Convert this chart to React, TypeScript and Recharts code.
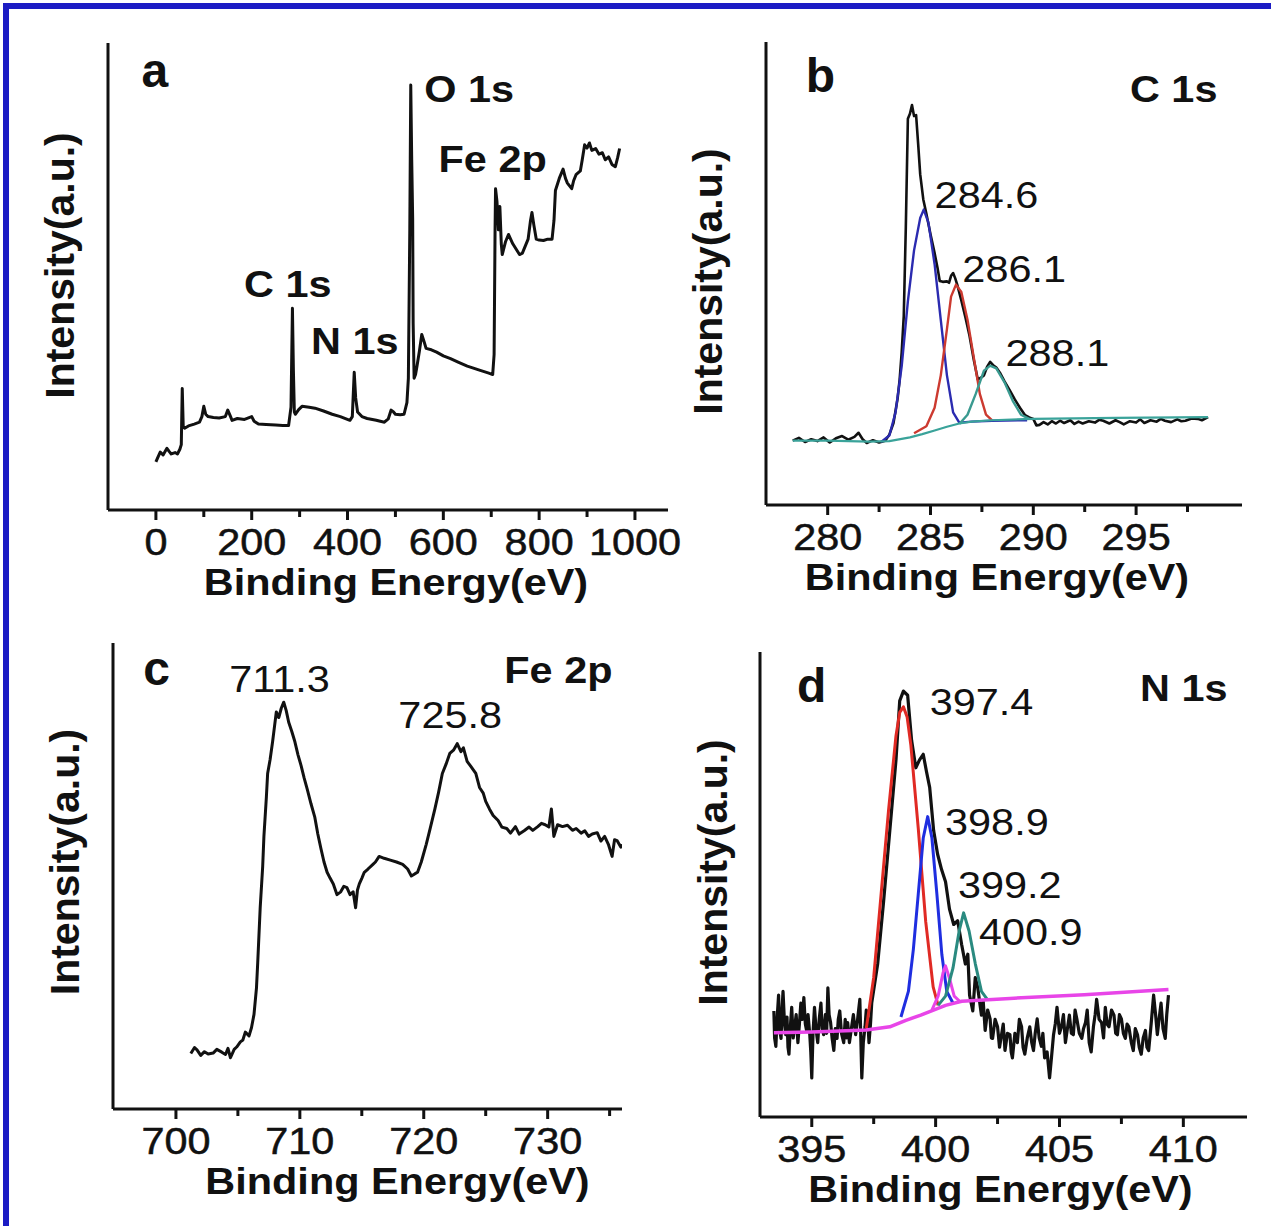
import React from "react";
import { LineChart, Line, XAxis, YAxis, ReferenceDot } from "recharts";

type Pt = [number, number];

// ---------- panel a : survey ----------
const surveyA: Pt[] = [
  [0, 10.3], [5, 11.5], [9, 12.4], [15, 11.8], [23, 13.2], [28, 12.5], [32, 12], [40, 12.3], [45, 12], [50, 13],
  [53, 14], [55, 26], [57, 18], [60, 17.5], [68, 18], [80, 18.4], [91, 18.8], [96, 20], [100, 22.2], [104, 20.5],
  [109, 20], [120, 19.8], [132, 19.7], [145, 20], [150, 21.4], [155, 20.2], [159, 19.2], [170, 19.6], [185, 19.4],
  [200, 20], [205, 19], [214, 18.4], [230, 18.3], [250, 18.2], [265, 18.1], [277, 18.1], [282, 22], [285, 43.2],
  [287, 30], [289, 21], [291, 20.5], [298, 21.5], [305, 22.2], [320, 22], [332, 21.8], [350, 21.2], [368, 20.5],
  [385, 20], [405, 19.2], [410, 20], [414, 29.5], [417, 24], [421, 21], [430, 20], [441, 19.6], [460, 19.2],
  [477, 18.8], [485, 19.5], [491, 21.4], [496, 21], [500, 20.5], [510, 20.4], [518, 20.5], [524, 23], [527, 28.2],
  [530, 60], [532, 91], [534, 75], [536, 62.4], [537, 40], [539, 28.2], [542, 29], [545, 30.8], [550, 34],
  [555, 37.6], [560, 36], [564, 34.6], [575, 34.3], [586, 33.8], [600, 33], [615, 32.4], [632, 31.6], [650, 30.8],
  [677, 29.9], [695, 29.3], [703, 29], [706, 33.3], [708, 60], [709, 68.8], [712, 66], [715, 60], [718, 65],
  [721, 57], [723, 54.7], [730, 57.5], [736, 59], [745, 57], [759, 54.7], [765, 55], [777, 58], [782, 62],
  [785, 63.7], [789, 61], [794, 58], [800, 57.8], [809, 57.7], [818, 58], [827, 58], [831, 62], [834, 68.4],
  [842, 71], [850, 73], [855, 71], [859, 70], [868, 68.8], [872, 70.5], [877, 71.8], [886, 72.6], [890, 75],
  [895, 78.2], [900, 77.5], [905, 78.6], [910, 77], [918, 77.4], [925, 76.2], [932, 76.5], [938, 75], [945, 75.6],
  [952, 74], [959, 73.5], [964, 75.5], [968, 77.4],
];

// ---------- panel b : C 1s ----------
const c1sData: Pt[] = [
  [278.3, 13.9], [278.6, 14.5], [278.9, 13.6], [279.2, 14.2], [279.5, 13.8], [279.8, 14.6], [280.1, 13.5],
  [280.4, 14.4], [280.7, 14.9], [281.0, 14.1], [281.3, 14.7], [281.5, 15.6], [281.7, 14.2], [281.9, 13.4],
  [282.2, 14.0], [282.5, 13.5], [282.8, 13.9], [283.0, 15.2], [283.2, 17.7], [283.4, 23], [283.5, 27.1],
  [283.6, 33], [283.7, 40.8], [283.8, 60], [283.9, 83.4], [284.0, 84.5], [284.1, 86.4], [284.2, 84],
  [284.3, 84.2], [284.4, 78], [284.5, 71.4], [284.65, 66], [284.8, 62.9], [285.0, 58.5], [285.2, 54.4],
  [285.35, 51], [285.45, 48.4], [285.6, 48.2], [285.8, 48.3], [285.9, 48], [286.0, 49.5], [286.1, 50.1],
  [286.2, 49], [286.3, 47.6], [286.5, 44.2], [286.7, 40.5], [286.9, 36.5], [287.1, 31.5], [287.3, 27.1],
  [287.45, 27.5], [287.6, 28], [287.75, 29.8], [287.9, 30.9], [288.05, 30.2], [288.2, 29.7], [288.4, 28.4],
  [288.6, 26.7], [288.85, 24.8], [289.1, 22.8], [289.35, 21], [289.6, 19.4], [289.8, 18.9], [290.0, 18.6],
  [290.15, 17.2], [290.3, 17.3], [290.5, 17.9], [290.7, 17.4], [290.9, 18.1], [291.1, 17.6], [291.3, 18.2],
  [291.5, 17.7], [291.8, 18.3], [292.0, 17.5], [292.2, 18.0], [292.4, 17.6], [292.7, 18.1], [293.0, 17.8],
  [293.2, 18.4], [293.4, 18.2], [293.7, 17.6], [294.0, 18.3], [294.2, 17.9], [294.4, 17.4], [294.7, 18.1],
  [295.0, 17.8], [295.2, 18.5], [295.4, 17.7], [295.7, 18.3], [296.0, 18.0], [296.2, 18.6], [296.4, 18.2],
  [296.7, 17.9], [297.0, 18.5], [297.2, 18.1], [297.4, 18.2], [297.7, 18.7], [298.0, 18.6], [298.2, 18.3],
  [298.5, 19.0],
];
const c1sPeak1: Pt[] = [
  [282.6, 13.6], [283.0, 15], [283.3, 20], [283.6, 30], [283.9, 44], [284.2, 55], [284.5, 62], [284.67, 63.8],
  [284.9, 61], [285.2, 52], [285.5, 40], [285.8, 28], [286.1, 20], [286.4, 17.8], [287.0, 18], [288.0, 18.2],
  [289.7, 18.3],
];
const c1sPeak2: Pt[] = [
  [284.2, 15.5], [284.8, 17], [285.2, 21], [285.5, 28], [285.8, 38], [286.0, 45], [286.24, 47.6], [286.5, 46],
  [286.8, 40], [287.1, 32], [287.4, 24], [287.7, 19.5], [288.0, 18.3],
];
const c1sPeak3: Pt[] = [
  [286.4, 17.5], [286.8, 19.5], [287.2, 24], [287.6, 29], [287.9, 30.1], [288.2, 29.5], [288.6, 26.5],
  [289.0, 22.5], [289.4, 19.5], [289.8, 18.6],
];
const c1sBase: Pt[] = [
  [278.3, 13.9], [280, 13.9], [282, 13.7], [283, 13.8], [284, 14.6], [284.6, 15.3], [285.2, 16.1], [285.8, 16.9],
  [286.4, 17.6], [287, 18], [288, 18.3], [290, 18.6], [294, 18.8], [298.5, 19.0],
];

// ---------- panel c : Fe 2p ----------
const fe2pData: Pt[] = [
  [701.2, 11.9], [701.5, 13.2], [701.7, 12.7], [702.0, 11.5], [702.3, 12.3], [702.6, 11.8], [703.0, 12.0],
  [703.3, 12.8], [703.7, 12.2], [704.0, 11.7], [704.2, 13], [704.4, 11.0], [704.7, 12.8], [704.9, 13.3],
  [705.2, 14.4], [705.4, 14.8], [705.6, 16.5], [705.9, 15.7], [706.1, 17.5], [706.3, 20.3], [706.5, 26],
  [706.6, 31.4], [706.8, 43.2], [707.0, 52], [707.1, 58.5], [707.3, 67], [707.4, 72], [707.6, 75], [707.8, 78.8],
  [707.95, 82], [708.1, 85.2], [708.3, 84], [708.5, 86], [708.7, 87.3], [708.9, 85.5], [709.1, 83], [709.35, 81],
  [709.6, 78.8], [709.85, 76], [710.1, 73.7], [710.35, 71], [710.6, 68.6], [710.9, 65.5], [711.2, 62.7],
  [711.45, 59], [711.7, 55.9], [711.95, 53], [712.2, 50.8], [712.45, 49.5], [712.7, 48.3], [713.0, 46],
  [713.3, 46.6], [713.55, 47.8], [713.8, 47.5], [714.05, 46], [714.3, 46.6], [714.5, 43.2], [714.65, 47],
  [714.8, 48.3], [715.0, 49.5], [715.2, 50.8], [715.5, 51.5], [715.9, 52.5], [716.1, 53], [716.4, 54.2],
  [716.8, 53.8], [717.3, 53.4], [717.8, 53], [718.3, 52.5], [718.7, 51.5], [719.0, 50], [719.3, 50.5],
  [719.5, 50.8], [719.8, 53], [720.2, 56.8], [720.5, 60], [720.9, 64.4], [721.2, 68], [721.5, 72], [721.8, 74],
  [722.1, 76.3], [722.4, 77], [722.7, 78.4], [723.0, 76.7], [723.2, 77.5], [723.5, 74.6], [723.8, 73.5],
  [724.2, 72], [724.5, 69], [724.8, 67.8], [725.0, 66], [725.3, 64.4], [725.6, 63], [726.0, 61.9], [726.3, 60.5],
  [726.7, 60.2], [727.0, 59.2], [727.4, 60.6], [727.7, 59], [728.1, 59.7], [728.5, 60.5], [728.8, 59.8],
  [729.2, 60.6], [729.5, 61.3], [729.8, 61], [730.1, 60.5], [730.3, 64.4], [730.5, 58.5], [730.8, 61],
  [731.2, 60.6], [731.6, 60.9], [732.0, 59.8], [732.3, 60.2], [732.7, 59.2], [733.0, 59.7], [733.3, 58.5],
  [733.6, 59], [734.0, 59.3], [734.3, 57.5], [734.6, 58.5], [734.9, 56.8], [735.2, 54.2], [735.4, 57.8],
  [735.6, 57.6], [735.9, 56.2], [736.0, 56.8],
];

// ---------- panel d : N 1s ----------
const n1sData: Pt[] = [
  [393.47, 22.8], [393.5, 17], [393.55, 15.2], [393.6, 21], [393.66, 26.2], [393.7, 19], [393.76, 16.9],
  [393.8, 23], [393.84, 27.0], [393.9, 20], [393.95, 17.7], [394.0, 21.5], [394.04, 15], [394.08, 13.5],
  [394.13, 19], [394.19, 23.6], [394.25, 17], [394.31, 19.4], [394.37, 22], [394.44, 16.0], [394.5, 20],
  [394.56, 24.5], [394.62, 21], [394.68, 25.7], [394.74, 20], [394.79, 18.6], [394.85, 22], [394.92, 17.7],
  [394.96, 14], [395.0, 8.4], [395.05, 18], [395.11, 23.6], [395.17, 19], [395.24, 16.0], [395.3, 21],
  [395.37, 24.5], [395.42, 19], [395.48, 17.7], [395.55, 22], [395.6, 18], [395.65, 27.8], [395.7, 22],
  [395.76, 20.3], [395.82, 17], [395.89, 14.3], [395.95, 19], [396.02, 16.9], [396.07, 21], [396.13, 22.8],
  [396.2, 18], [396.29, 16.0], [396.35, 21], [396.4, 17], [396.45, 20.3], [396.52, 16], [396.61, 19.4],
  [396.68, 22], [396.77, 17.7], [396.85, 21], [396.94, 25.3], [396.98, 17], [397.02, 8.4], [397.08, 16],
  [397.15, 19.4], [397.2, 23], [397.26, 21.1], [397.31, 16.0], [397.37, 20], [397.42, 24.5], [397.66, 32.9],
  [397.9, 46.4], [398.15, 61.6], [398.4, 76.8], [398.55, 89.5], [398.7, 91.6], [398.87, 90.7], [399.03, 81],
  [399.2, 75.1], [399.35, 76.8], [399.5, 78], [399.63, 74.3], [399.76, 70.9], [399.92, 61.6], [400.08, 56.5],
  [400.24, 53.2], [400.4, 50.6], [400.56, 44.7], [400.73, 41.4], [400.89, 42.2], [401.05, 37.1], [401.2, 32.9],
  [401.3, 35], [401.37, 26.2], [401.5, 22.8], [401.6, 30], [401.7, 27.8], [401.85, 21.9], [401.92, 25],
  [402.0, 18.6], [402.1, 23], [402.2, 21.1], [402.25, 17], [402.3, 16.9], [402.4, 21], [402.5, 19.4],
  [402.58, 15], [402.66, 17.7], [402.73, 20], [402.8, 14.3], [402.9, 18], [403.0, 17.7], [403.05, 14],
  [403.1, 12.7], [403.2, 18], [403.3, 16.0], [403.38, 21], [403.47, 19.4], [403.53, 15], [403.6, 13.5],
  [403.7, 17], [403.8, 19.4], [403.88, 16], [403.95, 14.3], [404.02, 18], [404.1, 21.1], [404.18, 17],
  [404.27, 15.2], [404.33, 18], [404.4, 12.7], [404.5, 14], [404.6, 8.4], [404.68, 13], [404.76, 17.7],
  [404.83, 20], [404.9, 23.6], [405.0, 18], [405.08, 19.4], [405.16, 22], [405.24, 16.0], [405.32, 19],
  [405.4, 21.9], [405.48, 18], [405.56, 17.7], [405.63, 23], [405.7, 21.1], [405.8, 18], [405.9, 16.9],
  [405.97, 19], [406.05, 20.3], [406.12, 23], [406.2, 16.0], [406.28, 14], [406.37, 19.4], [406.44, 22],
  [406.5, 25.3], [406.6, 21], [406.7, 20.3], [406.78, 17], [406.85, 23.6], [406.92, 20], [407.0, 19.4],
  [407.1, 23], [407.2, 21.9], [407.27, 18], [407.34, 17.7], [407.42, 22], [407.5, 21.1], [407.58, 18],
  [407.66, 16.9], [407.73, 20], [407.8, 19.4], [407.9, 16], [407.98, 14.3], [408.06, 19], [408.15, 17.7],
  [408.22, 15], [408.3, 13.5], [408.38, 17], [408.47, 18.6], [408.53, 15], [408.6, 14.3], [408.7, 20],
  [408.8, 26.2], [408.88, 22], [408.95, 17.7], [409.02, 21], [409.1, 24.5], [409.18, 19], [409.27, 16.9],
  [409.33, 22], [409.4, 26.2],
];
const n1sPeak1: Pt[] = [
  [397.2, 19], [397.5, 30], [397.8, 48], [398.1, 66], [398.4, 82], [398.55, 87], [398.7, 88.2], [398.85, 86],
  [399.0, 80], [399.3, 62], [399.6, 42], [399.9, 28], [400.1, 24],
];
const n1sPeak2: Pt[] = [
  [398.6, 21.5], [398.9, 27], [399.1, 36], [399.3, 48], [399.5, 60], [399.68, 64.6], [399.85, 60], [400.05, 48],
  [400.25, 35], [400.45, 27], [400.7, 24.5],
];
const n1sPeak3: Pt[] = [
  [399.85, 23], [400.1, 26], [400.3, 31], [400.4, 32.5], [400.55, 30], [400.75, 26], [400.95, 25],
];
const n1sPeak4: Pt[] = [
  [400.1, 24], [400.4, 26], [400.7, 32], [400.95, 40], [401.13, 43.9], [401.35, 40], [401.6, 33], [401.85, 27],
  [402.1, 25.2],
];
const n1sBase: Pt[] = [
  [393.47, 18.1], [395, 18.3], [397.2, 18.7], [398.15, 19.4], [398.8, 20.8], [399.4, 21.9], [400.4, 24],
  [401.05, 24.9], [403, 25.5], [406, 26.3], [409.4, 27.4],
];

// ---------- tick labels ----------
const ticksA = [0, 200, 400, 600, 800, 1000];
const minorA = [100, 300, 500, 700, 900];
const ticksB = [280, 285, 290, 295];
const minorB = [282.5, 287.5, 292.5, 297.5];
const ticksC = [700, 710, 720, 730];
const minorC = [705, 715, 725, 735];
const ticksD = [395, 400, 405, 410];
const minorD = [397.5, 402.5, 407.5];

const INK = "#111";
const FONT = "Arial, 'Liberation Sans', Helvetica, sans-serif";
const SX = 1.12;

type Kind = "letter" | "tag" | "num";
type Note = { x: number; y: number; text: string; kind: Kind };
type Series = { pts: Pt[]; color: string; width: number };

const noteStyle: Record<Kind, { size: number; weight: number; sx: number }> = {
  letter: { size: 48, weight: 700, sx: 1 },
  tag: { size: 37, weight: 700, sx: SX },
  num: { size: 37, weight: 400, sx: SX },
};

const toRows = (pts: Pt[]) => pts.map(([x, y]) => ({ x, y }));

function renderTick(p: any, major: number[]) {
  const { x, y, payload } = p;
  const isMajor = major.includes(payload.value);
  return (
    <g>
      <line x1={x} x2={x} y1={y} y2={y + (isMajor ? 10 : 7)} stroke={INK} strokeWidth={3} />
      {isMajor && (
        <text
          transform={`translate(${x},${y + 45}) scale(${SX},1)`}
          textAnchor="middle"
          fontFamily={FONT}
          fontSize={37}
          fill={INK}
          stroke={INK}
          strokeWidth={0.5}
        >
          {String(payload.value)}
        </text>
      )}
    </g>
  );
}

function Panel(props: {
  box: [number, number, number, number];
  plot: [number, number, number, number];
  domain: [number, number];
  major: number[];
  minor: number[];
  series: Series[];
  notes: Note[];
  titleDx: number;
  ylab: [number, number];
}) {
  const { box, plot, domain, major, minor, series, notes, titleDx, ylab } = props;
  const [bx, by, bw, bh] = box;
  const [L, T, R, B] = plot;
  const allTicks = [...major, ...minor].sort((a, b) => a - b);
  return (
    <div style={{ position: "absolute", left: bx, top: by }}>
      <LineChart width={bw} height={bh} margin={{ top: T - by, right: bx + bw - R, left: 0, bottom: 0 }}>
        <XAxis
          type="number"
          dataKey="x"
          domain={domain}
          allowDataOverflow
          ticks={allTicks}
          interval={0}
          tickLine={false}
          tickSize={0}
          tickMargin={0}
          tick={(p: any) => renderTick(p, major)}
          height={by + bh - B}
          axisLine={{ stroke: INK, strokeWidth: 3 }}
          label={{
            content: (p: any) => {
              const vb = p.viewBox;
              return (
                <text
                  transform={`translate(${vb.x + vb.width / 2 + titleDx},${vb.y + 85}) scale(${SX},1)`}
                  textAnchor="middle"
                  fontFamily={FONT}
                  fontSize={37}
                  fontWeight={700}
                  fill={INK}
                >
                  Binding Energy(eV)
                </text>
              );
            },
          }}
        />
        <YAxis
          type="number"
          domain={[0, 100]}
          allowDataOverflow
          tick={false}
          tickLine={false}
          width={L - bx}
          axisLine={{ stroke: INK, strokeWidth: 3 }}
          label={{
            content: (p: any) => {
              const vb = p.viewBox;
              const cx = vb.x + vb.width + ylab[0];
              const cy = vb.y + vb.height / 2 + ylab[1];
              return (
                <text
                  transform={`translate(${cx},${cy}) rotate(-90)`}
                  textAnchor="middle"
                  dominantBaseline="central"
                  fontFamily={FONT}
                  fontSize={41}
                  fontWeight={700}
                  fill={INK}
                >
                  Intensity(a.u.)
                </text>
              );
            },
          }}
        />
        {series.map((s, i) => (
          <Line
            key={i}
            data={toRows(s.pts)}
            dataKey="y"
            type="linear"
            stroke={s.color}
            strokeWidth={s.width}
            strokeLinejoin="round"
            dot={false}
            activeDot={false}
            isAnimationActive={false}
          />
        ))}
        {notes.map((n, i) => (
          <ReferenceDot
            key={"n" + i}
            x={n.x}
            y={n.y}
            r={0}
            fill="none"
            stroke="none"
            ifOverflow="visible"
            label={{
              content: (p: any) => {
                const vb = p.viewBox || { x: 0, y: 0, width: 0, height: 0 };
                const x = vb.x + (vb.width || 0) / 2;
                const y = vb.y + (vb.height || 0) / 2;
                const st = noteStyle[n.kind];
                return (
                  <text
                    transform={`translate(${x},${y}) scale(${st.sx},1)`}
                    fontFamily={FONT}
                    fontSize={st.size}
                    fontWeight={st.weight}
                    fill={INK}
                  >
                    {n.text}
                  </text>
                );
              },
            }}
          />
        ))}
      </LineChart>
    </div>
  );
}

export default function App() {
  return (
    <div style={{ position: "absolute", left: 0, top: 0, width: 1271, height: 1226, background: "#fff", overflow: "hidden" }}>
      <div
        style={{
          position: "absolute",
          left: 3,
          top: 3,
          width: 1268,
          height: 1223,
          borderTop: "6px solid #1c1cc4",
          borderLeft: "6px solid #1c1cc4",
          boxSizing: "border-box",
        }}
      />
      <Panel
        box={[0, 0, 690, 612]}
        plot={[108, 43, 668, 510]}
        domain={[-100, 1069]}
        major={ticksA}
        minor={minorA}
        titleDx={8}
        ylab={[-48, -11]}
        series={[{ pts: surveyA, color: INK, width: 3 }]}
        notes={[
          { x: -30, y: 90.6, text: "a", kind: "letter" },
          { x: 560, y: 87.3, text: "O 1s", kind: "tag" },
          { x: 590, y: 72.3, text: "Fe 2p", kind: "tag" },
          { x: 184, y: 45.7, text: "C 1s", kind: "tag" },
          { x: 324, y: 33.3, text: "N 1s", kind: "tag" },
        ]}
      />
      <Panel
        box={[680, 0, 591, 612]}
        plot={[766, 42, 1242, 505]}
        domain={[277, 300.15]}
        major={ticksB}
        minor={minorB}
        titleDx={-7}
        ylab={[-58, 8]}
        series={[
          { pts: c1sData, color: INK, width: 2.6 },
          { pts: c1sPeak1, color: "#2b2bb0", width: 2.4 },
          { pts: c1sPeak2, color: "#cc3a30", width: 2.4 },
          { pts: c1sPeak3, color: "#3a9a90", width: 2.4 },
          { pts: c1sBase, color: "#3aa39a", width: 2.2 },
        ]}
        notes={[
          { x: 278.93, y: 89.3, text: "b", kind: "letter" },
          { x: 294.7, y: 87, text: "C 1s", kind: "tag" },
          { x: 285.2, y: 64.1, text: "284.6", kind: "num" },
          { x: 286.55, y: 48.2, text: "286.1", kind: "num" },
          { x: 288.65, y: 30, text: "288.1", kind: "num" },
        ]}
      />
      <Panel
        box={[0, 612, 690, 614]}
        plot={[113, 643, 622, 1109]}
        domain={[694.92, 736]}
        major={ticksC}
        minor={minorC}
        titleDx={30}
        ylab={[-48, -14]}
        series={[{ pts: fe2pData, color: INK, width: 3 }]}
        notes={[
          { x: 697.36, y: 91, text: "c", kind: "letter" },
          { x: 704.3, y: 89.5, text: "711.3", kind: "num" },
          { x: 717.95, y: 81.8, text: "725.8", kind: "num" },
          { x: 726.5, y: 91.5, text: "Fe 2p", kind: "tag" },
        ]}
      />
      <Panel
        box={[680, 612, 591, 614]}
        plot={[760, 652, 1247, 1117]}
        domain={[392.91, 412.57]}
        major={ticksD}
        minor={minorD}
        titleDx={-3}
        ylab={[-47, -12]}
        series={[
          { pts: n1sData, color: INK, width: 3.2 },
          { pts: n1sPeak1, color: "#e02a24", width: 3 },
          { pts: n1sPeak2, color: "#1f2ee0", width: 3 },
          { pts: n1sPeak3, color: "#e845e8", width: 3 },
          { pts: n1sPeak4, color: "#2a8a80", width: 3 },
          { pts: n1sBase, color: "#e845e8", width: 3.5 },
        ]}
        notes={[
          { x: 394.4, y: 89.3, text: "d", kind: "letter" },
          { x: 399.76, y: 86.5, text: "397.4", kind: "num" },
          { x: 400.38, y: 60.7, text: "398.9", kind: "num" },
          { x: 400.9, y: 47, text: "399.2", kind: "num" },
          { x: 401.75, y: 37, text: "400.9", kind: "num" },
          { x: 408.25, y: 89.5, text: "N 1s", kind: "tag" },
        ]}
      />
    </div>
  );
}
